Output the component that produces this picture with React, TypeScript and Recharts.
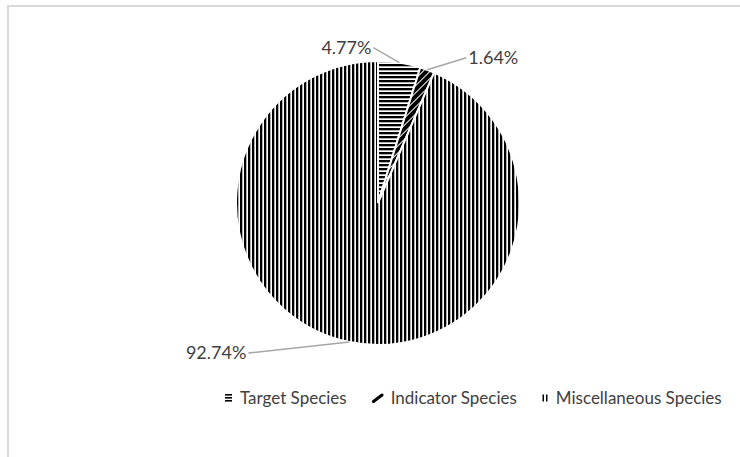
import React from 'react';
import { PieChart, Pie, Cell, Legend } from 'recharts';

// Share of each species group (%)
const categories = ['Target Species', 'Indicator Species', 'Miscellaneous Species'];
const shares = [4.77, 1.64, 92.74];

const chartData = categories.map((name, i) => ({ name, value: shares[i] }));

// Hatch fills, one per slice
const patternIds = ['hatch-horizontal', 'hatch-diagonal', 'hatch-vertical'];

// Where each callout sits relative to the point on the rim
const labelLayout = [
  { dx: -26, dy: -15, anchor: 'end' },
  { dx: 39, dy: -12, anchor: 'start' },
  { dx: -101, dy: 11, anchor: 'end' },
];

const FONT = 'Lato, "Open Sans", sans-serif';
const TEXT = '#404040';
const RAD = Math.PI / 180;

const renderCallout = (props: any) => {
  const { cx, cy, midAngle, outerRadius, index, value } = props;
  const ex = cx + outerRadius * Math.cos(-midAngle * RAD);
  const ey = cy + outerRadius * Math.sin(-midAngle * RAD);
  const lay = labelLayout[index];
  const lx = ex + lay.dx;
  const ly = ey + lay.dy;
  const tx = lay.anchor === 'end' ? lx - 2 : lx + 2;
  return (
    <g key={`callout-${index}`}>
      <line x1={ex} y1={ey} x2={lx} y2={ly} stroke="#a6a6a6" strokeWidth={1.5} />
      <text
        x={tx}
        y={ly - 1}
        textAnchor={lay.anchor}
        dominantBaseline="central"
        fontFamily={FONT}
        fontSize={18}
        fill={TEXT}
      >
        {`${Number(value).toFixed(2)}%`}
      </text>
    </g>
  );
};

const LegendIcon = ({ index }: { index: number }) => {
  if (index === 0) {
    return (
      <svg width={8} height={9} style={{ display: 'block' }}>
        <rect x={0} y={1} width={7} height={1.6} fill="#000" />
        <rect x={0} y={4} width={7} height={1.6} fill="#000" />
        <rect x={0} y={7} width={7} height={1.6} fill="#000" />
      </svg>
    );
  }
  if (index === 1) {
    return (
      <svg width={12} height={10} style={{ display: 'block' }}>
        <path d="M1.5 8.5 L10 2" stroke="#000" strokeWidth={3} strokeLinecap="round" />
      </svg>
    );
  }
  return (
    <svg width={7} height={10} style={{ display: 'block' }}>
      <rect x={0.5} y={1.5} width={1.5} height={7} fill="#000" />
      <rect x={4} y={1.5} width={1.5} height={7} fill="#000" />
    </svg>
  );
};

const renderLegend = () => (
  <div style={{ display: 'flex', alignItems: 'center', fontFamily: FONT, fontSize: 17, color: TEXT }}>
    {categories.map((name, i) => (
      <div key={name} style={{ display: 'flex', alignItems: 'center', marginRight: 25 }}>
        <LegendIcon index={i} />
        <span style={{ marginLeft: 7, whiteSpace: 'nowrap' }}>{name}</span>
      </div>
    ))}
  </div>
);

export default function App() {
  return (
    <div
      style={{
        position: 'absolute',
        left: 0,
        top: 0,
        width: 740,
        height: 457,
        overflow: 'hidden',
        background: '#fff',
      }}
    >
      <div
        style={{
          position: 'absolute',
          left: 7,
          top: 5,
          width: 800,
          height: 500,
          borderTop: '2px solid #d9d9d9',
          borderLeft: '2px solid #d9d9d9',
        }}
      />
      <div style={{ position: 'absolute', left: 0, top: 0 }}>
        <PieChart width={740} height={457} margin={{ top: 0, right: 0, bottom: 0, left: 0 }}>
          <defs>
            <pattern id={patternIds[0]} width={4} height={4} patternUnits="userSpaceOnUse">
              <rect width={4} height={4} fill="#fff" />
              <rect x={0} y={0} width={4} height={2.3} fill="#000" />
            </pattern>
            <pattern
              id={patternIds[1]}
              width={5}
              height={5}
              patternUnits="userSpaceOnUse"
              patternTransform="rotate(45)"
            >
              <rect width={5} height={5} fill="#fff" />
              <rect x={0} y={0} width={4} height={5} fill="#000" />
            </pattern>
            <pattern id={patternIds[2]} width={4} height={4} patternUnits="userSpaceOnUse">
              <rect width={4} height={4} fill="#fff" />
              <rect x={0} y={0} width={2.3} height={4} fill="#000" />
            </pattern>
          </defs>
          <Pie
            data={chartData}
            dataKey="value"
            nameKey="name"
            cx={378}
            cy={203}
            outerRadius={142}
            startAngle={90}
            endAngle={-270}
            stroke="#fff"
            strokeWidth={2}
            label={renderCallout}
            labelLine={false}
            isAnimationActive={false}
          >
            {chartData.map((d, i) => (
              <Cell key={d.name} fill={`url(#${patternIds[i]})`} />
            ))}
          </Pie>
          <Legend
            content={renderLegend}
            wrapperStyle={{ position: 'absolute', left: 225, top: 387, width: 'auto', height: 22 }}
          />
        </PieChart>
      </div>
    </div>
  );
}
